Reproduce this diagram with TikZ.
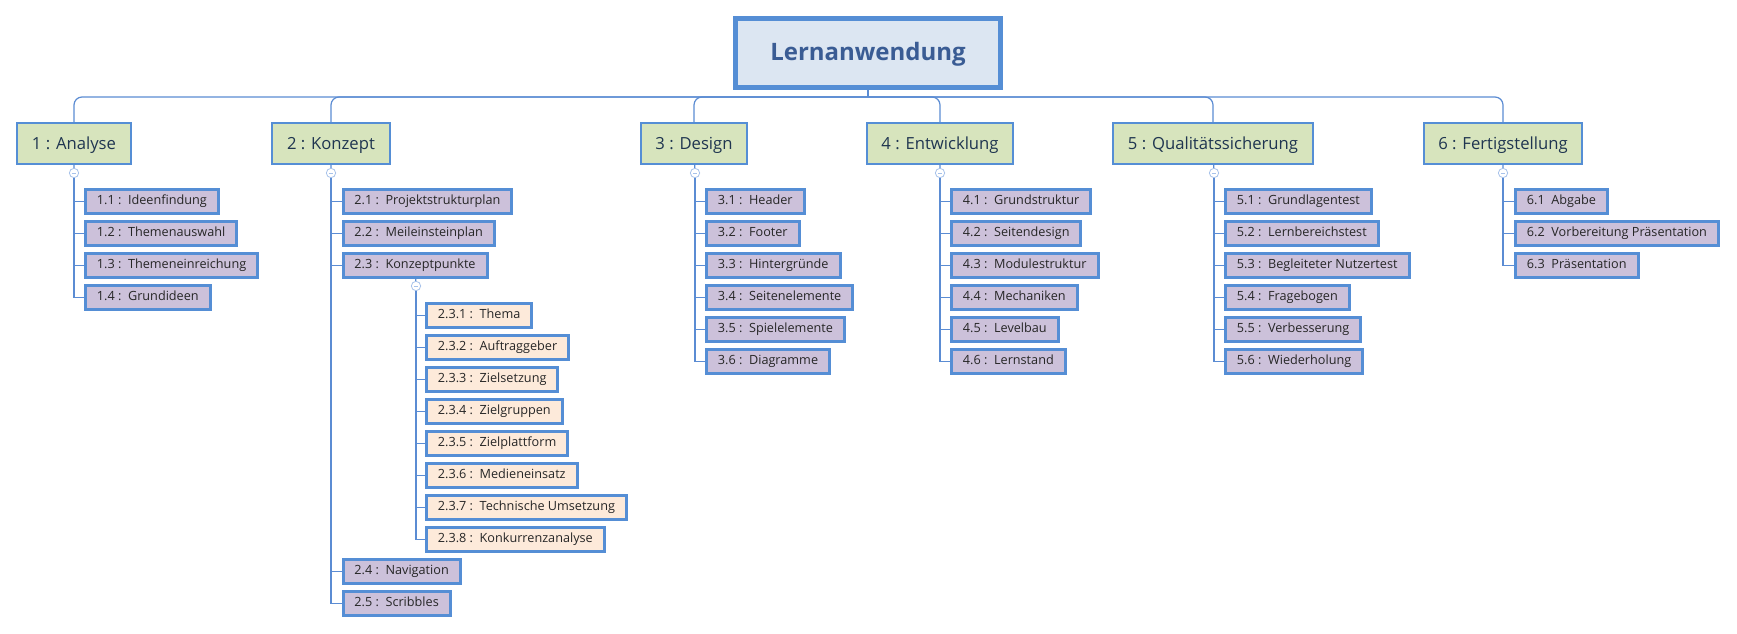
\documentclass[tikz,border=0pt]{standalone}
\usepackage{fontspec}
\setmainfont{Open Sans}
\usepackage{tikz}
\definecolor{rim}{HTML}{558ED5}
\definecolor{wire}{HTML}{5B8CD3}
\definecolor{knobrim}{HTML}{A7C2EA}
\definecolor{rootfill}{HTML}{DCE6F2}
\definecolor{rootink}{HTML}{3A5C94}
\definecolor{phasefill}{HTML}{D7E4BD}
\definecolor{phaseink}{HTML}{1F3550}
\definecolor{taskfill}{HTML}{CCC1DA}
\definecolor{subfill}{HTML}{FDEADA}
\tikzstyle{line} = [draw,
color=wire, line width=0.9pt]

\begin{document}
\begin{tikzpicture}[x=0.75pt, y=-0.75pt,
		root/.style={draw=rim, line width=3.75pt, fill=rootfill, text=rootink,
			font=\fontsize{18}{22}\selectfont\bfseries, text height=14.5pt, text depth=2.5pt,
			minimum width=199pt, minimum height=52pt},
		phase/.style={draw=rim, line width=1.5pt, fill=phasefill, text=phaseink,
			font=\fontsize{12.5}{15}\selectfont, text height=11.5pt, text depth=2pt,
			minimum height=30.75pt, inner xsep=11pt},
		task/.style={draw=rim, line width=2.25pt, fill=taskfill, text=black!85,
			font=\fontsize{9.5}{11}\selectfont, text height=7.2pt, text depth=2.1pt,
			minimum height=18pt, inner xsep=8.6pt, anchor=west},
		subtask/.style={task, fill=subfill},
		knob/.style={circle, draw=knobrim, fill=white, line width=0.6pt,
			minimum size=7pt, inner sep=0pt,
			path picture={\draw [knobrim, line width=0.6pt]
				([xshift=-1.8pt]path picture bounding box.center) --
				([xshift=1.8pt]path picture bounding box.center);}}]
		\fill [white] (0,0) rectangle (1737,634);
		%% Root
		\node [root] at (868,53) (L) {Lernanwendung};
		\coordinate (hub) at (868,97);
		%% Phases
		\node [phase] at (74,143.5) (A) {1 : Analyse};
		\node [phase] at (331,143.5) (K) {2 : Konzept};
		\node [phase] at (694,143.5) (D) {3 : Design};
		\node [phase] at (940,143.5) (E) {4 : Entwicklung};
		\node [phase] at (1213,143.5) (Q) {5 : Qualitätssicherung};
		\node [phase] at (1503,143.5) (F) {6 : Fertigstellung};
		%% Knobs
		\node [knob] at (74,173) (kA) {};
		\node [knob] at (331,173) (kK) {};
		\node [knob] at (695,173) (kD) {};
		\node [knob] at (940,173) (kE) {};
		\node [knob] at (1214,173) (kQ) {};
		\node [knob] at (1503,173) (kF) {};
		%% 1 Analyse
		\node [task] at (84,201.5) (A1) {1.1 :~~Ideenfindung};
		\node [task] at (84,233.5) (A2) {1.2 :~~Themenauswahl};
		\node [task] at (84,265.5) (A3) {1.3 :~~Themeneinreichung};
		\node [task] at (84,297.5) (A4) {1.4 :~~Grundideen};
		%% 2 Konzept
		\node [task] at (341.5,201.5) (K1) {2.1 :~~Projektstrukturplan};
		\node [task] at (341.5,233.5) (K2) {2.2 :~~Meileinsteinplan};
		\node [task] at (341.5,265.5) (K3) {2.3 :~~Konzeptpunkte};
		\node [knob] at (416,286) (kK3) {};
		\node [subtask] at (425,315.5) (K31) {2.3.1 :~~Thema};
		\node [subtask] at (425,347.5) (K32) {2.3.2 :~~Auftraggeber};
		\node [subtask] at (425,379.5) (K33) {2.3.3 :~~Zielsetzung};
		\node [subtask] at (425,411.5) (K34) {2.3.4 :~~Zielgruppen};
		\node [subtask] at (425,443.5) (K35) {2.3.5 :~~Zielplattform};
		\node [subtask] at (425,475.5) (K36) {2.3.6 :~~Medieneinsatz};
		\node [subtask] at (425,507.5) (K37) {2.3.7 :~~Technische Umsetzung};
		\node [subtask] at (425,539.5) (K38) {2.3.8 :~~Konkurrenzanalyse};
		\node [task] at (341.5,571.5) (K4) {2.4 :~~Navigation};
		\node [task] at (341.5,603.5) (K5) {2.5 :~~Scribbles};
		%% 3 Design
		\node [task] at (705,201.5) (D1) {3.1 :~~Header};
		\node [task] at (705,233.5) (D2) {3.2 :~~Footer};
		\node [task] at (705,265.5) (D3) {3.3 :~~Hintergründe};
		\node [task] at (705,297.5) (D4) {3.4 :~~Seitenelemente};
		\node [task] at (705,329.5) (D5) {3.5 :~~Spielelemente};
		\node [task] at (705,361.5) (D6) {3.6 :~~Diagramme};
		%% 4 Entwicklung
		\node [task] at (950,201.5) (E1) {4.1 :~~Grundstruktur};
		\node [task] at (950,233.5) (E2) {4.2 :~~Seitendesign};
		\node [task] at (950,265.5) (E3) {4.3 :~~Modulestruktur};
		\node [task] at (950,297.5) (E4) {4.4 :~~Mechaniken};
		\node [task] at (950,329.5) (E5) {4.5 :~~Levelbau};
		\node [task] at (950,361.5) (E6) {4.6 :~~Lernstand};
		%% 5 Qualitaetssicherung
		\node [task] at (1224,201.5) (Q1) {5.1 :~~Grundlagentest};
		\node [task] at (1224,233.5) (Q2) {5.2 :~~Lernbereichstest};
		\node [task] at (1224,265.5) (Q3) {5.3 :~~Begleiteter Nutzertest};
		\node [task] at (1224,297.5) (Q4) {5.4 :~~Fragebogen};
		\node [task] at (1224,329.5) (Q5) {5.5 :~~Verbesserung};
		\node [task] at (1224,361.5) (Q6) {5.6 :~~Wiederholung};
		%% 6 Fertigstellung
		\node [task] at (1514,201.5) (F1) {6.1~~Abgabe};
		\node [task] at (1514,233.5) (F2) {6.2~~Vorbereitung Präsentation};
		\node [task] at (1514,265.5) (F3) {6.3~~Präsentation};
		%% Flows
		\path [line] (L) -- (hub);
		\path [line, rounded corners=6pt] (hub) -| (A);
		\path [line, rounded corners=6pt] (hub) -| (K);
		\path [line, rounded corners=6pt] (hub) -| (D);
		\path [line, rounded corners=6pt] (hub) -| (E);
		\path [line, rounded corners=6pt] (hub) -| (Q);
		\path [line, rounded corners=6pt] (hub) -| (F);
		\path [line] (A) -- (kA) (K) -- (kK) (D) -- (kD) (E) -- (kE) (Q) -- (kQ) (F) -- (kF) (K3) -- (kK3);
		\path [line] (kA) |- (A1) (kA) |- (A2) (kA) |- (A3) (kA) |- (A4);
		\path [line] (kK) |- (K1) (kK) |- (K2) (kK) |- (K3) (kK) |- (K4) (kK) |- (K5);
		\path [line] (kK3) |- (K31) (kK3) |- (K32) (kK3) |- (K33) (kK3) |- (K34)
			(kK3) |- (K35) (kK3) |- (K36) (kK3) |- (K37) (kK3) |- (K38);
		\path [line] (kD) |- (D1) (kD) |- (D2) (kD) |- (D3) (kD) |- (D4) (kD) |- (D5) (kD) |- (D6);
		\path [line] (kE) |- (E1) (kE) |- (E2) (kE) |- (E3) (kE) |- (E4) (kE) |- (E5) (kE) |- (E6);
		\path [line] (kQ) |- (Q1) (kQ) |- (Q2) (kQ) |- (Q3) (kQ) |- (Q4) (kQ) |- (Q5) (kQ) |- (Q6);
		\path [line] (kF) |- (F1) (kF) |- (F2) (kF) |- (F3);
	\end{tikzpicture}
\end{document}
